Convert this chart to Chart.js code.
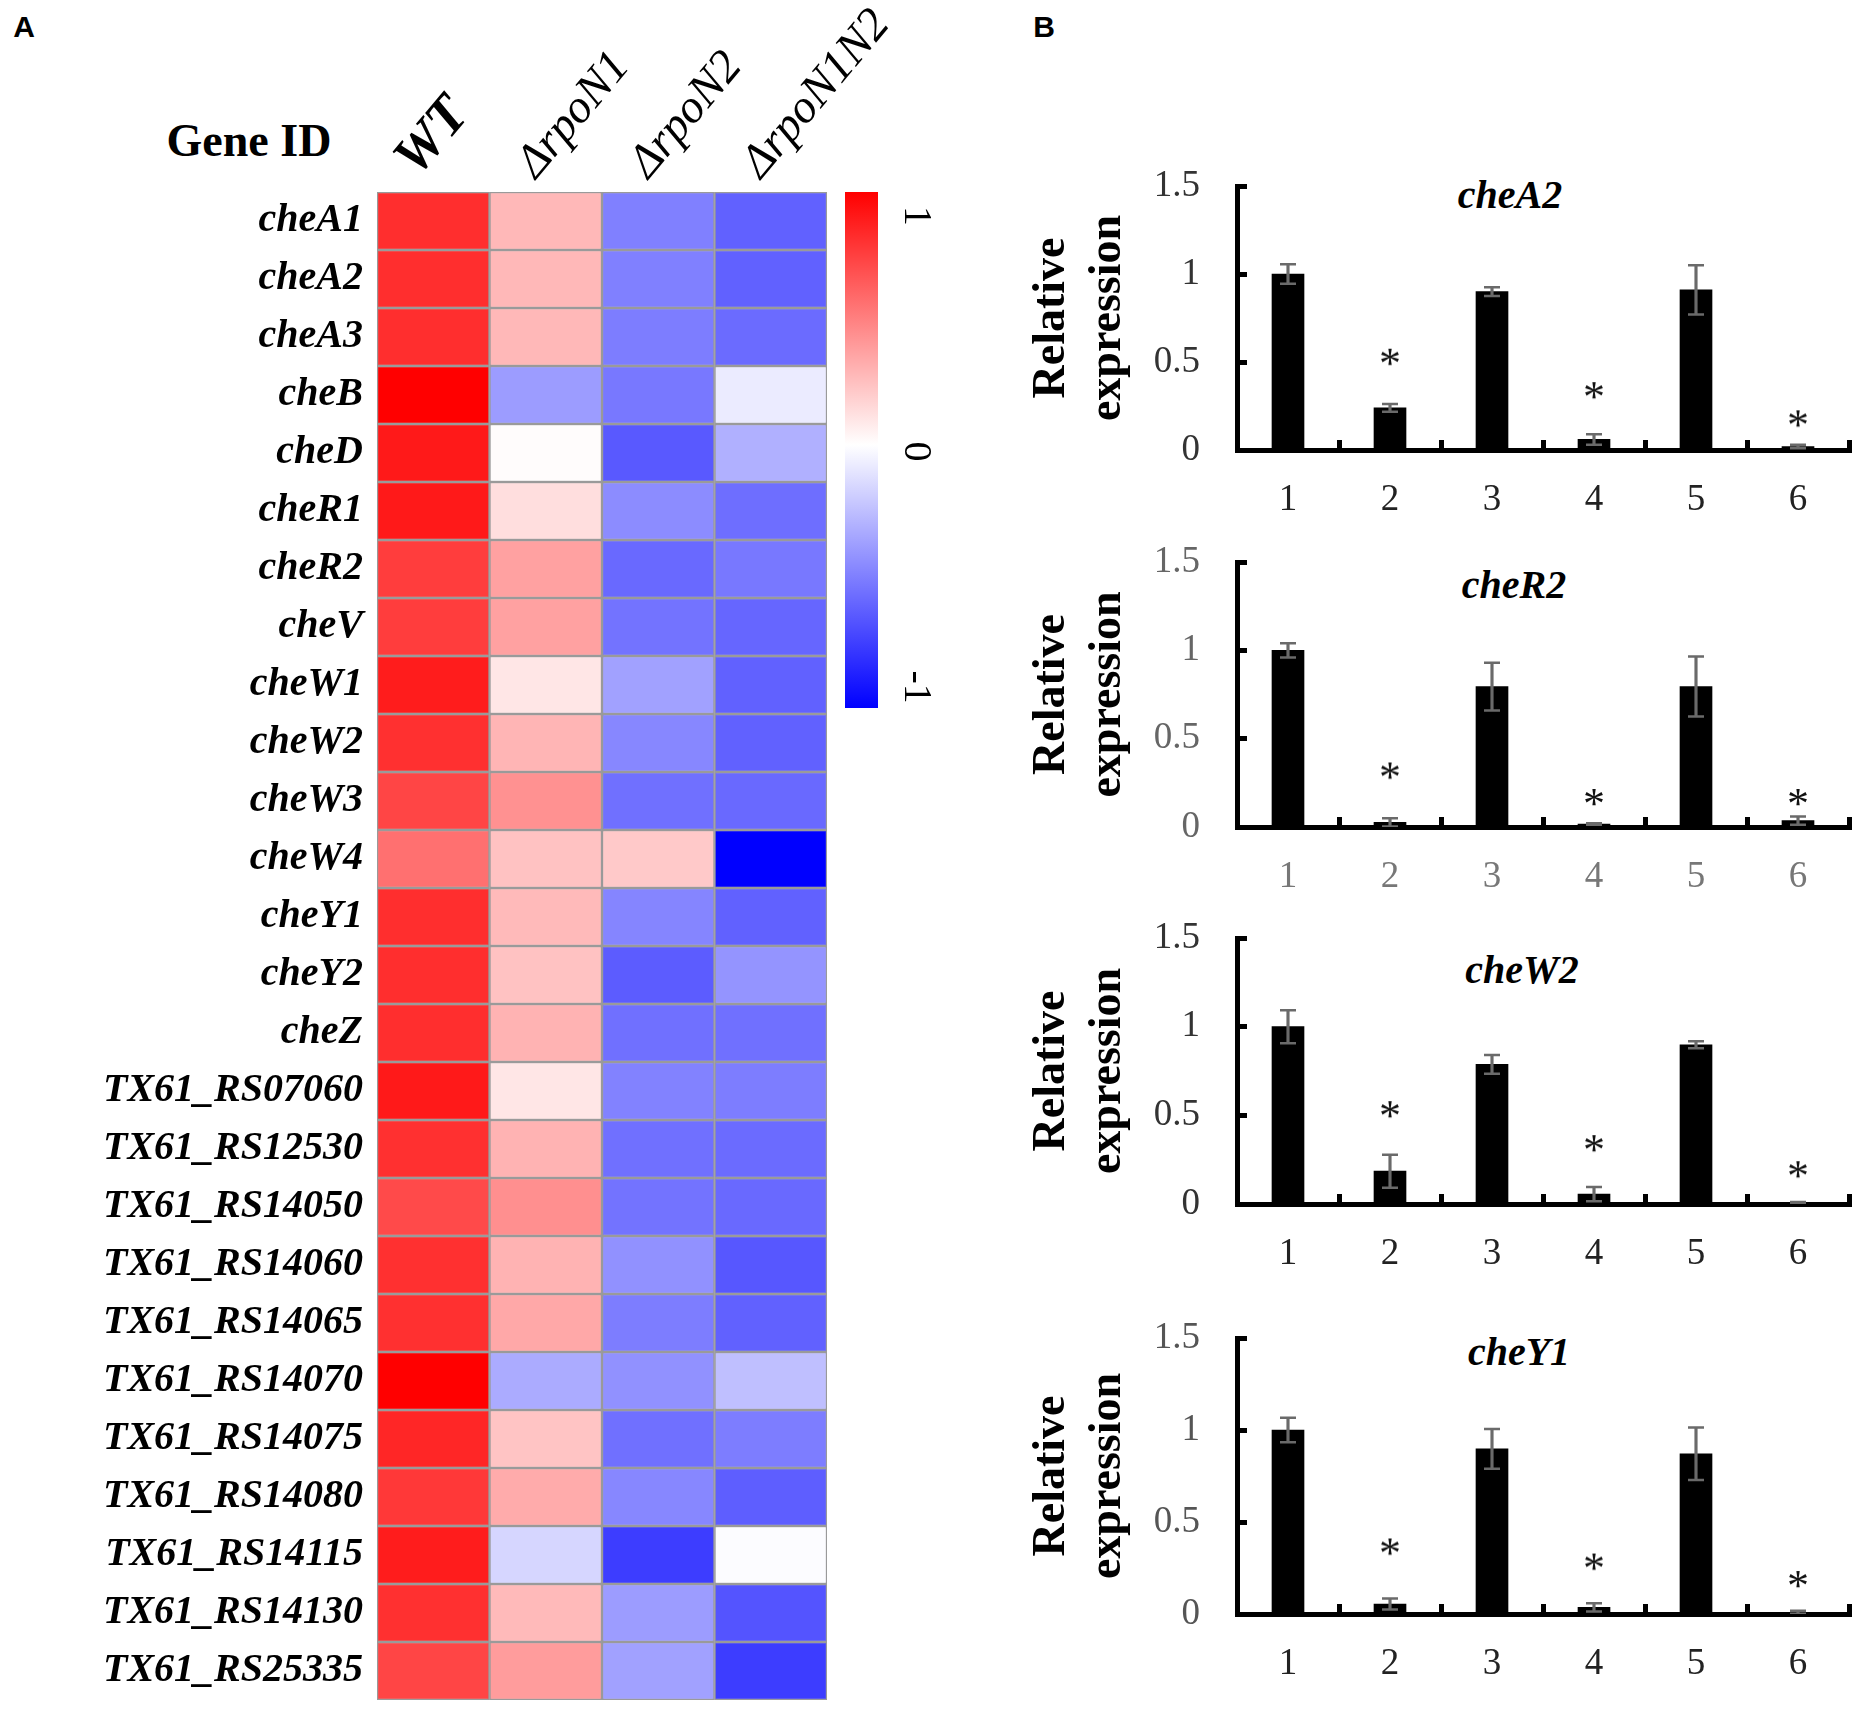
<!DOCTYPE html>
<html>
<head>
<meta charset="utf-8">
<script src="https://cdn.jsdelivr.net/npm/chart.js@4.4.1/dist/chart.umd.min.js"></script>
<style>
    body { margin: 0; background: #fff; width: 1860px; height: 1709px; position: relative; overflow: hidden; }
    canvas { position: absolute; }
    .lbl { position: absolute; transform: translate(-50%, -50%); line-height: 1; white-space: nowrap; color: #000;
           font-family: 'Liberation Serif', 'Times New Roman', serif; }
    .sub { font-size: 40px; font-weight: bold; font-style: italic; }
</style>
</head>
<body>
<div class="lbl" style="left:24px; top:27px; font: bold 30px 'Liberation Sans', Arial, sans-serif;">A</div>
<div class="lbl" style="left:1044px; top:27px; font: bold 30px 'Liberation Sans', Arial, sans-serif;">B</div>
<div class="lbl" style="left:249px; top:141px; font-size:46px; font-weight:bold;">Gene ID</div>
<div class="lbl sub" style="left:1510px; top:195px;">cheA2</div>
<div class="lbl sub" style="left:1514px; top:585px;">cheR2</div>
<div class="lbl sub" style="left:1522px; top:970px;">cheW2</div>
<div class="lbl sub" style="left:1519px; top:1352px;">cheY1</div>

<script>
// ---- heatmap data (row z-scores) ----
const strains = ['WT', 'ΔrpoN1', 'ΔrpoN2', 'ΔrpoN1N2'];
const genes = ['cheA1', 'cheA2', 'cheA3', 'cheB', 'cheD', 'cheR1', 'cheR2', 'cheV', 'cheW1', 'cheW2',
    'cheW3', 'cheW4', 'cheY1', 'cheY2', 'cheZ', 'TX61_RS07060', 'TX61_RS12530', 'TX61_RS14050',
    'TX61_RS14060', 'TX61_RS14065', 'TX61_RS14070', 'TX61_RS14075', 'TX61_RS14080', 'TX61_RS14115',
    'TX61_RS14130', 'TX61_RS25335'];
const wtZ      = [0.82, 0.82, 0.82, 1.0, 0.9, 0.9, 0.76, 0.76, 0.89, 0.81, 0.73, 0.56, 0.82, 0.82, 0.82, 0.9, 0.81, 0.71, 0.81, 0.81, 1.0, 0.85, 0.78, 0.89, 0.81, 0.73];
const rpoN1Z   = [0.28, 0.28, 0.28, -0.39, 0.01, 0.13, 0.37, 0.37, 0.1, 0.29, 0.43, 0.24, 0.27, 0.24, 0.3, 0.1, 0.3, 0.44, 0.3, 0.34, -0.33, 0.23, 0.33, -0.16, 0.27, 0.39];
const rpoN2Z   = [-0.5, -0.5, -0.51, -0.53, -0.65, -0.45, -0.59, -0.55, -0.37, -0.47, -0.56, 0.21, -0.48, -0.64, -0.56, -0.49, -0.56, -0.55, -0.43, -0.51, -0.43, -0.56, -0.47, -0.76, -0.39, -0.37];
const rpoN1N2Z = [-0.62, -0.62, -0.58, -0.08, -0.31, -0.57, -0.53, -0.6, -0.62, -0.62, -0.59, -1.0, -0.62, -0.42, -0.56, -0.51, -0.58, -0.59, -0.66, -0.62, -0.25, -0.51, -0.63, -0.01, -0.67, -0.76];
const colorbarTicks = [1, 0, -1];

// ---- qRT-PCR data ----
const groups = ['1', '2', '3', '4', '5', '6'];
const yTickStep = 0.5;
const cheA2Mean = [1.0, 0.24, 0.90, 0.06, 0.91, 0.02];
const cheA2Err  = [0.055, 0.022, 0.025, 0.03, 0.14, 0.01];
const cheA2Star = [null, 0.53, null, 0.34, null, 0.18];
const cheR2Mean = [1.0, 0.026, 0.795, 0.017, 0.795, 0.036];
const cheR2Err  = [0.04, 0.023, 0.135, 0.004, 0.17, 0.023];
const cheR2Star = [null, 0.32, null, 0.17, null, 0.17];
const cheW2Mean = [1.0, 0.185, 0.787, 0.056, 0.898, 0.008];
const cheW2Err  = [0.093, 0.093, 0.053, 0.04, 0.02, 0.003];
const cheW2Star = [null, 0.535, null, 0.343, null, 0.196];
const cheY1Mean = [1.0, 0.054, 0.898, 0.036, 0.871, 0.009];
const cheY1Err  = [0.066, 0.03, 0.108, 0.023, 0.143, 0.008];
const cheY1Star = [null, 0.367, null, 0.285, null, 0.19];

const SERIF = "'Liberation Serif', 'Times New Roman', serif";

function addCanvas(left, top, w, h) {
    const c = document.createElement('canvas');
    c.width = w; c.height = h;
    c.style.left = left + 'px'; c.style.top = top + 'px';
    document.body.appendChild(c);
    return c;
}

function heatColor(v) {
    const k = Math.round(255 * (1 - Math.min(1, Math.abs(v))));
    return v >= 0 ? `rgb(255,${k},${k})` : `rgb(${k},${k},255)`;
}

// vertical axes reserve half a label above/below the plot; we size the plot ourselves
function noVPad(s) { s.paddingTop = 0; s.paddingBottom = 0; }

const baseOpts = { responsive: false, animation: false, devicePixelRatio: 1, events: [],
    plugins: { legend: { display: false }, tooltip: { enabled: false } } };

// ---- heatmap ----
const heatCols = [wtZ, rpoN1Z, rpoN2Z, rpoN1N2Z];
new Chart(addCanvas(0, 0, 960, 1709), {
    type: 'bar',
    data: {
        labels: genes,
        datasets: heatCols.map((vals, c) => ({
            data: genes.map(() => [c, c + 1]),
            backgroundColor: vals.map(heatColor),
            borderColor: '#9a9a9a', borderWidth: 1.5, borderSkipped: false,
            barPercentage: 1, categoryPercentage: 1, grouped: false
        }))
    },
    options: {
        ...baseOpts,
        indexAxis: 'y',
        layout: { padding: { right: 133, bottom: 9 } },
        scales: {
            x: { type: 'linear', display: false, min: 0, max: 4 },
            xTop: {
                type: 'category', axis: 'x', position: 'top', labels: strains, offset: true,
                grid: { display: false }, border: { display: false },
                ticks: {
                    autoSkip: false, minRotation: 50, maxRotation: 50, padding: -6, labelOffset: 24, color: '#000',
                    font: ctx => ctx.index === 0
                        ? { family: SERIF, size: 55, style: 'italic', weight: 'bold' }
                        : { family: SERIF, size: 47, style: 'italic', weight: 'normal' }
                },
                afterFit: s => { s.height = 192; }
            },
            y: {
                grid: { display: false }, border: { display: false },
                ticks: { autoSkip: false, padding: 6, color: '#000',
                    font: { family: SERIF, size: 40, style: 'italic', weight: 'bold' } },
                afterFit: s => { s.width = 377; noVPad(s); }
            }
        }
    }
});

// ---- colour key ----
const cbMin = -1.089, cbMax = 1.102;
const colorbarLabels = {
    id: 'colorbarLabels',
    afterDraw(chart) {
        const ctx = chart.ctx, y = chart.scales.y;
        ctx.save();
        ctx.fillStyle = '#000';
        ctx.font = `40px ${SERIF}`;
        ctx.textAlign = 'center';
        ctx.textBaseline = 'middle';
        colorbarTicks.forEach(v => {
            ctx.save();
            ctx.translate(85, y.getPixelForValue(v));
            ctx.rotate(Math.PI / 2);
            ctx.fillText(String(v), 0, 0);
            ctx.restore();
        });
        ctx.restore();
    }
};
new Chart(addCanvas(830, 150, 130, 600), {
    type: 'bar',
    data: {
        labels: [''],
        datasets: [{
            data: [[cbMin, cbMax]],
            barPercentage: 1, categoryPercentage: 1,
            backgroundColor: ctx => {
                const a = ctx.chart.chartArea;
                if (!a) return '#fff';
                const g = ctx.chart.ctx.createLinearGradient(0, a.top, 0, a.bottom);
                g.addColorStop(0, 'rgb(255,0,0)');
                g.addColorStop(0.49, 'rgb(255,255,255)');
                g.addColorStop(1, 'rgb(0,0,255)');
                return g;
            }
        }]
    },
    options: {
        ...baseOpts,
        layout: { padding: { left: 15, right: 82, top: 42, bottom: 42 } },
        scales: { x: { display: false }, y: { display: false, min: cbMin, max: cbMax } }
    },
    plugins: [colorbarLabels]
});

// ---- bar panels ----
function makeStar() {
    const c = document.createElement('canvas');
    c.width = 28; c.height = 28;
    const g = c.getContext('2d');
    g.font = `44px ${SERIF}`;
    g.fillStyle = '#111';
    const m = g.measureText('*');
    const w = m.actualBoundingBoxLeft + m.actualBoundingBoxRight;
    const h = m.actualBoundingBoxAscent + m.actualBoundingBoxDescent;
    g.fillText('*', (28 - w) / 2 + m.actualBoundingBoxLeft, (28 - h) / 2 + m.actualBoundingBoxAscent);
    return c;
}
const starImg = makeStar();

const panels = [
    { mean: cheA2Mean, err: cheA2Err, star: cheA2Star, top: 186, bottom: 450, yColor: '#333', xColor: '#222' },
    { mean: cheR2Mean, err: cheR2Err, star: cheR2Star, top: 562, bottom: 827, yColor: '#666', xColor: '#777' },
    { mean: cheW2Mean, err: cheW2Err, star: cheW2Star, top: 938, bottom: 1204, yColor: '#333', xColor: '#222' },
    { mean: cheY1Mean, err: cheY1Err, star: cheY1Star, top: 1338, bottom: 1614, yColor: '#555', xColor: '#222' }
];

panels.forEach(p => {
    const canvas = addCanvas(1000, p.top - 40, 860, p.bottom - p.top + 130);
    const capStyle = { type: 'line', showLine: false, pointStyle: 'line', pointRadius: 8,
        pointBorderWidth: 2.5, pointBorderColor: '#6a6a6a', order: 1 };
    new Chart(canvas, {
        type: 'bar',
        data: {
            labels: groups,
            datasets: [
                { data: p.mean, backgroundColor: '#000', barThickness: 32, grouped: false, order: 3 },
                { data: p.mean.map((m, i) => [m - p.err[i], m + p.err[i]]), backgroundColor: '#6a6a6a',
                  barThickness: 2.5, grouped: false, order: 2 },
                { ...capStyle, data: p.mean.map((m, i) => m + p.err[i]) },
                { ...capStyle, data: p.mean.map((m, i) => m - p.err[i]) },
                { type: 'line', showLine: false, data: p.star, pointStyle: starImg, pointRadius: 10, order: 0 }
            ]
        },
        options: {
            ...baseOpts,
            layout: { padding: { top: 40, right: 8 } },
            scales: {
                x: {
                    offset: true,
                    grid: { offset: true, drawOnChartArea: false, tickLength: -10, tickWidth: 5, tickColor: '#000' },
                    border: { color: '#000', width: 5 },
                    ticks: { color: p.xColor, padding: 38, font: { family: SERIF, size: 37 } },
                    afterFit: s => { s.height = 90; }
                },
                y: {
                    min: 0, max: 1.5,
                    grid: { drawOnChartArea: false, tickLength: -10, tickWidth: 5, tickColor: '#000' },
                    border: { color: '#000', width: 5 },
                    ticks: { stepSize: yTickStep, color: p.yColor, padding: 47, font: { family: SERIF, size: 37 },
                        callback: v => String(v) },
                    title: { display: true, text: ['Relative', 'expression'], color: '#000',
                        font: { family: SERIF, size: 46, weight: 'bold', lineHeight: 1.22 }, padding: { top: 24 } },
                    afterFit: s => { s.width = 237; noVPad(s); }
                }
            }
        }
    });
});
</script>
</body>
</html>
